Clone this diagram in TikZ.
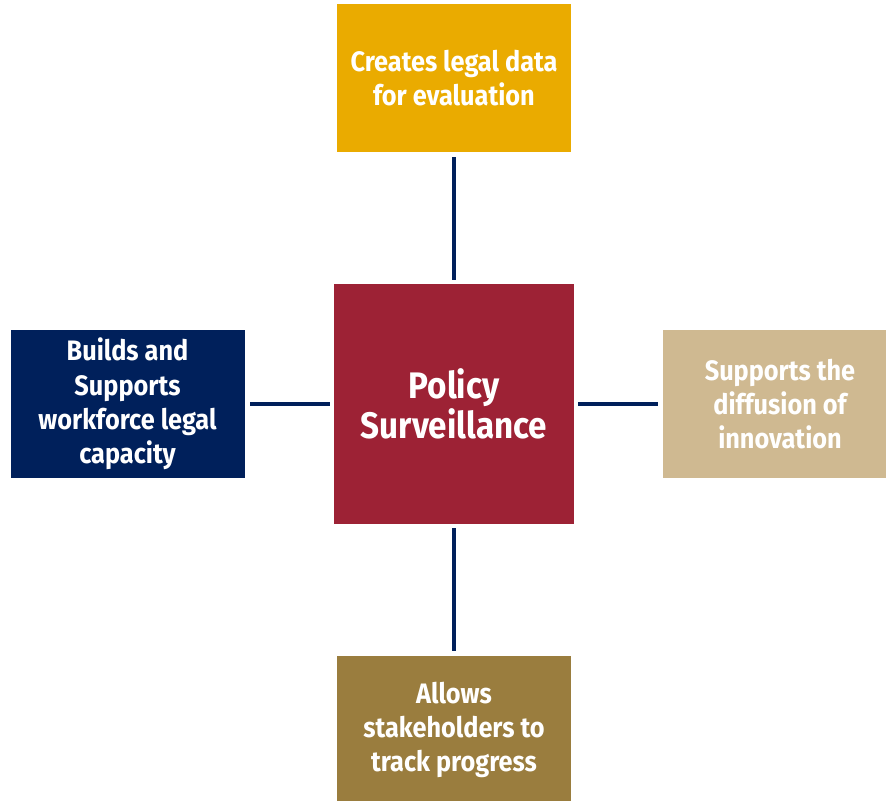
\documentclass[tikz,border=0pt]{standalone}
\usepackage{fontspec}
\setmainfont{Fira Sans}[FakeStretch=0.9]
\usepackage{tikz}
\usetikzlibrary{positioning}
\definecolor{pcrimson}{HTML}{9D2235}
\definecolor{pgold}{HTML}{EAAB00}
\definecolor{pnavy}{HTML}{00205B}
\definecolor{ptan}{HTML}{CFB991}
\definecolor{pbrown}{HTML}{9A7D3E}
\tikzset{
  leaf/.style={text=white,align=center,font=\fontsize{16}{19.5}\selectfont\bfseries,minimum width=4.68cm,minimum height=2.96cm,inner sep=2pt},
  hub/.style={fill=pcrimson,text=white,align=center,font=\fontsize{21}{21}\selectfont\bfseries,minimum width=4.8cm,minimum height=4.8cm},
  link/.style={draw=pnavy,line width=2.3pt,shorten <=0.08cm,shorten >=0.1cm},
}
\begin{document}
\begin{tikzpicture}
  \useasboundingbox (0,0) rectangle (17.72,-16.02);
  \clip (0,0) rectangle (17.72,-16.02);
  % centre and the four outcomes
  \node[hub] (ps) at (9.08,-8.08) {Policy\\Surveillance};
  \node[leaf,fill=pgold] (data) at (9.08,-1.56) {Creates legal data\\for evaluation};
  \node[leaf,fill=pnavy] (work) at (2.55,-8.08) {Builds and\\Supports\\workforce legal\\capacity};
  \node[leaf,fill=ptan] (diff) at (15.6,-8.08) {Supports the\\diffusion of\\innovation};
  \node[leaf,fill=pbrown] (track) at (9.08,-14.6) {Allows\\stakeholders to\\track progress};
  % spokes
  \draw[link] (ps) -- (data);
  \draw[link] (ps) -- (work);
  \draw[link] (ps) -- (diff);
  \draw[link] (ps) -- (track);
\end{tikzpicture}
\end{document}
